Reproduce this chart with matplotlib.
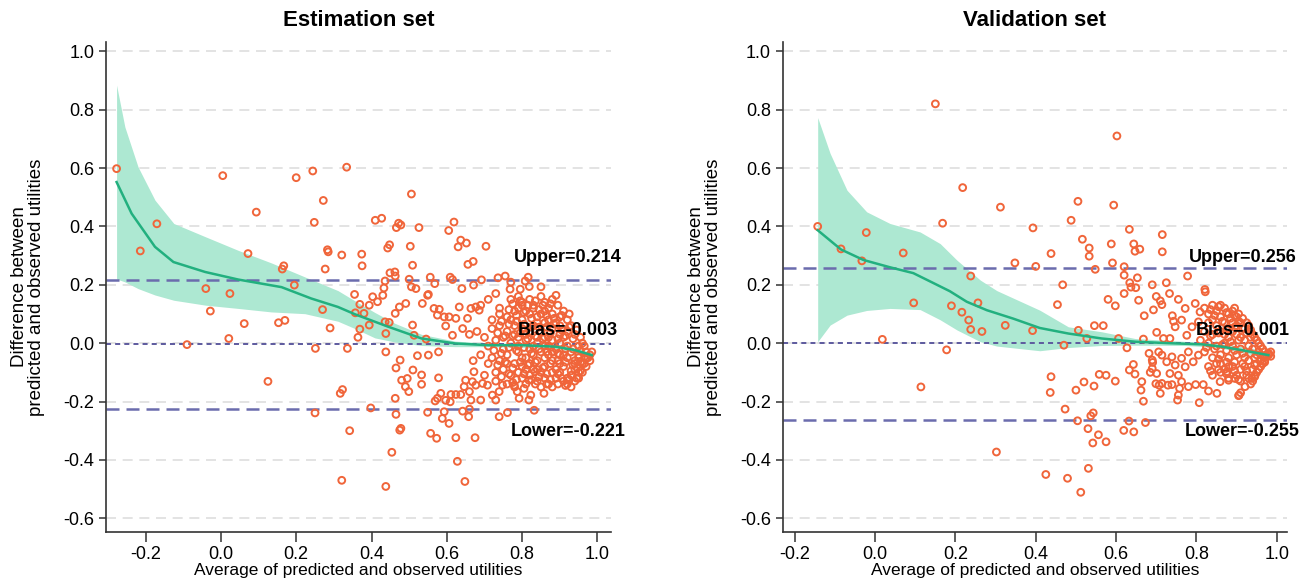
import numpy as np
import matplotlib
matplotlib.use("Agg")
import matplotlib.pyplot as plt

plt.rcParams['font.family'] = ['Liberation Sans', 'DejaVu Sans']
plt.rcParams['axes.unicode_minus'] = False

# ---------------- Estimation set ----------------
est_pts = [
    (-0.277, 0.598), (-0.214, 0.316), (-0.17, 0.409), (-0.09, -0.005), (-0.04, 0.187),
    (-0.028, 0.11), (0.005, 0.574), (0.021, 0.016), (0.024, 0.17), (0.062, 0.067),
    (0.072, 0.307), (0.094, 0.449), (0.125, -0.131), (0.153, 0.07), (0.17, 0.078),
    (0.163, 0.254), (0.167, 0.265), (0.195, 0.199), (0.20, 0.567), (0.244, 0.59),
    (0.248, 0.414), (0.251, -0.018), (0.25, -0.239), (0.27, 0.115), (0.272, 0.489),
    (0.277, 0.254), (0.283, 0.32), (0.285, 0.313), (0.29, 0.052), (0.317, -0.172),
    (0.321, 0.302), (0.323, -0.159), (0.321, -0.47), (0.334, 0.603), (0.336, -0.018),
    (0.342, -0.30), (0.355, 0.167), (0.357, 0.104), (0.364, 0.02), (0.369, 0.133),
    (0.369, 0.048), (0.374, 0.305), (0.375, 0.265),
    (0.506, 0.511), (0.41, 0.421), (0.427, 0.428), (0.472, 0.411), (0.478, 0.405),
    (0.466, 0.396), (0.526, 0.396), (0.619, 0.415), (0.605, 0.386), (0.637, 0.353),
    (0.652, 0.343), (0.63, 0.33), (0.704, 0.332), (0.448, 0.337), (0.443, 0.326),
    (0.503, 0.332), (0.509, 0.267), (0.656, 0.27), (0.67, 0.28), (0.449, 0.241),
    (0.462, 0.244), (0.463, 0.23), (0.436, 0.213), (0.5, 0.219), (0.556, 0.226),
    (0.609, 0.226), (0.615, 0.218), (0.568, 0.204), (0.692, 0.217), (0.736, 0.224),
    (0.755, 0.23), (0.77, 0.209), (0.816, 0.226), (0.808, 0.213), (0.819, 0.194),
    (0.85, 0.193), (0.506, 0.193), (0.518, 0.187), (0.433, 0.189), (0.64, 0.187),
    (0.671, 0.199), (0.795, 0.185), (0.551, 0.167), (0.768, 0.185), (0.89, 0.164),
    (0.403, 0.159), (0.416, 0.142), (0.43, 0.164), (0.394, 0.13), (0.38, 0.102),
    (0.394, 0.062), (0.436, 0.073), (0.447, 0.071), (0.438, 0.033), (0.474, 0.124),
    (0.491, 0.136), (0.463, 0.102), (0.509, 0.062), (0.513, 0.027), (0.545, 0.014),
    (0.535, 0.136), (0.549, 0.164), (0.566, 0.119), (0.58, 0.116), (0.575, 0.096),
    (0.593, 0.09), (0.606, 0.09), (0.597, 0.059), (0.615, 0.027), (0.642, 0.05),
    (0.624, 0.085), (0.633, 0.124), (0.664, 0.119), (0.677, 0.124), (0.686, 0.113),
    (0.655, 0.085), (0.438, -0.03), (0.522, -0.043), (0.551, -0.041), (0.578, -0.03),
    (0.476, -0.058), (0.465, -0.085), (0.51, -0.092), (0.48, -0.127), (0.495, -0.121),
    (0.49, -0.149), (0.499, -0.166), (0.533, -0.109), (0.533, -0.141), (0.578, -0.119),
    (0.463, -0.189), (0.569, -0.198), (0.575, -0.189), (0.584, -0.172), (0.611, -0.176),
    (0.624, -0.176), (0.637, -0.176), (0.597, -0.196), (0.609, -0.201), (0.593, -0.235),
    (0.588, -0.258), (0.606, -0.275), (0.549, -0.237), (0.465, -0.244), (0.398, -0.222),
    (0.478, -0.292), (0.475, -0.298), (0.557, -0.309), (0.573, -0.326), (0.624, -0.324),
    (0.675, -0.324), (0.454, -0.374), (0.628, -0.405), (0.438, -0.491), (0.648, -0.474),
    (0.642, -0.233), (0.66, -0.226), (0.658, -0.252), (0.664, -0.195), (0.66, -0.166),
    (0.646, -0.149), (0.65, -0.127), (0.668, -0.132), (0.672, -0.098), (0.677, -0.144),
    (0.69, -0.195), (0.695, -0.138), (0.708, -0.144), (0.721, -0.178), (0.73, -0.195),
    (0.739, -0.252), (0.761, -0.238), (0.739, -0.166), (0.748, -0.144), (0.779, -0.144),
    (0.787, -0.166), (0.792, -0.189), (0.818, -0.195), (0.823, -0.178), (0.832, -0.23),
    (0.858, -0.172), (0.805, -0.155), (0.818, -0.127), (0.834, -0.098),
    (0.68, 0.04), (0.70, 0.02), (0.66, 0.03), (0.69, -0.04), (0.71, -0.07), (0.67, -0.06),
    (0.70, -0.11), (0.72, 0.08), (0.73, -0.13), (0.74, 0.12), (0.71, 0.15), (0.73, 0.17),
    (0.69, 0.13),
    # dense cluster
    (0.77, 0.15), (0.79, 0.16), (0.80, 0.14), (0.82, 0.15), (0.83, 0.13), (0.85, 0.16),
    (0.86, 0.14), (0.88, 0.15), (0.79, 0.12), (0.81, 0.11),
    (0.74, 0.10), (0.76, 0.09), (0.78, 0.11), (0.80, 0.08), (0.82, 0.10), (0.84, 0.09),
    (0.86, 0.11), (0.88, 0.10), (0.90, 0.09), (0.83, 0.12), (0.87, 0.12), (0.91, 0.11),
    (0.89, 0.07),
    (0.72, 0.05), (0.74, 0.06), (0.76, 0.04), (0.78, 0.06), (0.80, 0.05), (0.81, 0.03),
    (0.83, 0.06), (0.85, 0.04), (0.86, 0.07), (0.88, 0.05), (0.90, 0.06), (0.92, 0.04),
    (0.93, 0.06), (0.84, 0.02), (0.87, 0.02), (0.91, 0.02), (0.94, 0.03), (0.79, 0.02),
    (0.77, 0.08),
    (0.71, -0.01), (0.73, 0.01), (0.75, -0.02), (0.77, 0.00), (0.79, -0.01), (0.81, 0.01),
    (0.82, -0.02), (0.84, 0.00), (0.85, -0.03), (0.87, -0.01), (0.88, 0.01), (0.89, -0.02),
    (0.90, 0.00), (0.92, -0.01), (0.93, -0.03), (0.95, -0.01), (0.96, 0.00), (0.83, -0.04),
    (0.86, -0.05), (0.91, -0.04),
    (0.72, -0.05), (0.74, -0.06), (0.76, -0.04), (0.78, -0.07), (0.80, -0.05), (0.82, -0.07),
    (0.84, -0.06), (0.86, -0.08), (0.88, -0.06), (0.90, -0.07), (0.92, -0.05), (0.94, -0.06),
    (0.95, -0.04), (0.97, -0.03), (0.98, -0.04), (0.79, -0.03), (0.81, -0.09), (0.87, -0.04),
    (0.73, -0.10), (0.75, -0.09), (0.77, -0.11), (0.79, -0.10), (0.80, -0.12), (0.82, -0.11),
    (0.83, -0.09), (0.85, -0.10), (0.86, -0.12), (0.88, -0.10), (0.89, -0.12), (0.90, -0.10),
    (0.91, -0.13), (0.93, -0.11), (0.94, -0.09), (0.95, -0.10), (0.96, -0.07), (0.97, -0.05),
    (0.84, -0.13), (0.87, -0.14),
    (0.76, -0.14), (0.78, -0.15), (0.81, -0.14), (0.85, -0.15), (0.88, -0.15), (0.92, -0.14),
    (0.94, -0.13), (0.95, -0.12), (0.96, -0.10), (0.97, -0.08), (0.98, -0.06),
    (0.93, -0.15), (0.945, -0.12), (0.955, -0.095), (0.965, -0.07), (0.975, -0.05),
    (0.985, -0.03), (0.92, -0.12), (0.93, -0.095), (0.94, -0.07), (0.95, -0.05),
    (0.80, 0.13), (0.82, 0.04), (0.84, 0.07), (0.86, 0.02), (0.88, -0.03), (0.90, 0.03),
    (0.91, -0.08), (0.89, -0.09), (0.85, 0.10), (0.83, -0.01), (0.81, -0.05), (0.87, 0.08),
    (0.92, 0.08), (0.90, -0.04), (0.84, -0.09), (0.86, -0.01), (0.78, 0.03), (0.76, -0.07),
    (0.75, 0.02), (0.80, -0.08),
    (0.775, 0.135), (0.795, 0.145), (0.815, 0.13), (0.835, 0.145), (0.855, 0.13), (0.875, 0.135),
    (0.895, 0.13), (0.765, 0.115), (0.785, 0.095), (0.805, 0.105), (0.825, 0.085), (0.845, 0.115),
    (0.865, 0.095), (0.885, 0.085), (0.905, 0.095), (0.925, 0.10),
    (0.745, 0.075), (0.765, 0.065), (0.785, 0.075), (0.805, 0.065), (0.825, 0.055), (0.845, 0.055),
    (0.865, 0.055), (0.885, 0.065), (0.905, 0.045), (0.925, 0.055), (0.945, 0.045),
    (0.735, 0.035), (0.755, 0.025), (0.775, 0.025), (0.795, 0.035), (0.815, 0.015), (0.835, 0.025),
    (0.855, 0.015), (0.875, 0.035), (0.895, 0.015), (0.915, 0.025), (0.935, 0.015), (0.955, 0.02),
    (0.725, -0.025), (0.745, -0.035), (0.765, -0.015), (0.785, -0.025), (0.805, -0.015),
    (0.825, -0.035), (0.845, -0.02), (0.865, -0.03), (0.875, -0.015), (0.895, -0.035),
    (0.915, -0.02), (0.935, -0.02), (0.955, -0.025), (0.965, -0.01),
    (0.735, -0.075), (0.755, -0.065), (0.775, -0.085), (0.795, -0.065), (0.815, -0.075),
    (0.835, -0.065), (0.855, -0.085), (0.875, -0.07), (0.895, -0.06), (0.915, -0.065),
    (0.935, -0.075), (0.955, -0.065),
    (0.745, -0.115), (0.765, -0.105), (0.785, -0.125), (0.805, -0.105), (0.825, -0.125),
    (0.845, -0.115), (0.865, -0.105), (0.875, -0.125), (0.895, -0.105), (0.905, -0.12),
    (0.925, -0.125), (0.775, -0.135), (0.835, -0.14), (0.865, -0.14), (0.895, -0.14),
    (0.915, -0.145),
]
est_fit_x = [-0.277, -0.237, -0.175, -0.126, -0.042, 0.046, 0.161, 0.24, 0.311, 0.356,
             0.445, 0.533, 0.622, 0.71, 0.799, 0.888, 0.941, 0.985]
est_fit_y = [0.552, 0.444, 0.33, 0.278, 0.244, 0.218, 0.192, 0.153, 0.124, 0.099,
             0.056, 0.016, -0.001, -0.007, -0.007, -0.012, -0.024, -0.041]
est_band_x = [-0.277, -0.255, -0.22, -0.175, -0.125, -0.04, 0.046, 0.134, 0.223, 0.311,
              0.356, 0.409, 0.462, 0.533, 0.622, 0.71, 0.8, 0.9, 0.985]
est_band_hi = [0.884, 0.741, 0.604, 0.49, 0.41, 0.364, 0.318, 0.275, 0.227, 0.18,
               0.145, 0.105, 0.068, 0.03, 0.007, 0.0, -0.001, -0.005, -0.032]
est_band_lo = [0.22, 0.21, 0.187, 0.165, 0.147, 0.13, 0.119, 0.107, 0.101, 0.075,
               0.05, 0.018, 0.004, -0.008, -0.012, -0.012, -0.014, -0.02, -0.05]
est_limits = {'upper': 0.218, 'bias': -0.003, 'lower': -0.226}
est_labels = ['Upper=0.214', 'Bias=-0.003', 'Lower=-0.221']

# ---------------- Validation set ----------------
val_pts = [
    (0.15, 0.82), (0.218, 0.533), (0.312, 0.466), (0.168, 0.411), (0.393, 0.395),
    (-0.143, 0.40), (-0.022, 0.379), (-0.085, 0.323), (-0.033, 0.282), (0.07, 0.309),
    (0.348, 0.275), (0.40, 0.263), (0.238, 0.23),
    (0.602, 0.71), (0.505, 0.486), (0.594, 0.473), (0.488, 0.421), (0.633, 0.39),
    (0.516, 0.356), (0.588, 0.34), (0.715, 0.372), (0.533, 0.326), (0.533, 0.298),
    (0.644, 0.34), (0.647, 0.315), (0.659, 0.322), (0.715, 0.313), (0.438, 0.307),
    (0.591, 0.275), (0.548, 0.253), (0.62, 0.262), (0.62, 0.233), (0.653, 0.224),
    (0.778, 0.23), (0.467, 0.2), (0.634, 0.207), (0.637, 0.192), (0.725, 0.207),
    (0.821, 0.184),
    (0.096, 0.138), (0.19, 0.128), (0.256, 0.138), (0.216, 0.106), (0.233, 0.079),
    (0.238, 0.047), (0.266, 0.04), (0.324, 0.061), (0.392, 0.043), (0.018, 0.013),
    (0.178, -0.023), (0.114, -0.15), (0.302, -0.373),
    (0.454, 0.132), (0.598, 0.128), (0.546, 0.06), (0.568, 0.06), (0.506, 0.044),
    (0.527, 0.016), (0.47, -0.007), (0.606, 0.016), (0.627, -0.016),
    (0.656, 0.147), (0.67, 0.094), (0.693, 0.114), (0.71, 0.145), (0.714, 0.132),
    (0.733, 0.17), (0.74, 0.094), (0.743, 0.075), (0.763, 0.079), (0.772, 0.119),
    (0.668, 0.014), (0.701, 0.037), (0.718, 0.016), (0.734, 0.016), (0.747, 0.056),
    (0.776, 0.027), (0.789, 0.056), (0.797, 0.136), (0.822, 0.176), (0.805, 0.073),
    (0.809, 0.107),
    (0.649, 0.19), (0.70, 0.16), (0.755, 0.15), (0.62, 0.17), (0.58, 0.15), (0.69, 0.2),
    (0.438, -0.115), (0.436, -0.169), (0.473, -0.226), (0.5, -0.161), (0.52, -0.133),
    (0.545, -0.147), (0.558, -0.107), (0.575, -0.11), (0.598, -0.13), (0.504, -0.266),
    (0.53, -0.293), (0.537, -0.249), (0.543, -0.239), (0.556, -0.314), (0.542, -0.342),
    (0.575, -0.338), (0.619, -0.299), (0.644, -0.304), (0.632, -0.267), (0.673, -0.272),
    (0.425, -0.45), (0.479, -0.463), (0.531, -0.429), (0.512, -0.511),
    (0.662, -0.161), (0.668, -0.199), (0.664, -0.132), (0.633, -0.092), (0.647, -0.106),
    (0.643, -0.073), (0.685, -0.1), (0.691, -0.066), (0.707, -0.144), (0.71, -0.172),
    (0.699, -0.139), (0.714, -0.138), (0.729, -0.144), (0.739, -0.142), (0.755, -0.178),
    (0.753, -0.195), (0.758, -0.155), (0.763, -0.132), (0.78, -0.149), (0.798, -0.142),
    (0.807, -0.204), (0.817, -0.142), (0.83, -0.164), (0.851, -0.172), (0.859, -0.132),
    (0.876, -0.098), (0.88, -0.127), (0.896, -0.121), (0.906, -0.178), (0.921, -0.149),
    (0.938, -0.121), (0.946, -0.11),
    (0.682, -0.035), (0.69, -0.058), (0.706, -0.03), (0.714, -0.041), (0.726, -0.064),
    (0.739, -0.047), (0.747, -0.075), (0.763, -0.052), (0.772, -0.081), (0.78, -0.03),
    (0.792, -0.064), (0.805, -0.041), (0.69, -0.087), (0.734, -0.104), (0.755, -0.11),
    (0.701, -0.104),
    # dense cluster
    (0.82, 0.12), (0.83, 0.10), (0.84, 0.13), (0.85, 0.11), (0.86, 0.09), (0.87, 0.12),
    (0.88, 0.10), (0.89, 0.11), (0.90, 0.09), (0.86, 0.13), (0.83, 0.07), (0.85, 0.06),
    (0.87, 0.07), (0.88, 0.05), (0.89, 0.07), (0.90, 0.06), (0.91, 0.07), (0.92, 0.05),
    (0.93, 0.06), (0.82, 0.04), (0.84, 0.03), (0.86, 0.04), (0.88, 0.02), (0.90, 0.03),
    (0.91, 0.02), (0.92, 0.01), (0.94, 0.03), (0.95, 0.01), (0.81, 0.01), (0.83, 0.00),
    (0.85, -0.01), (0.87, 0.00), (0.89, -0.01), (0.91, -0.02), (0.93, -0.01), (0.94, -0.02),
    (0.96, -0.01), (0.97, -0.03), (0.82, -0.03), (0.84, -0.05), (0.86, -0.04), (0.88, -0.05),
    (0.90, -0.04), (0.92, -0.05), (0.93, -0.06), (0.95, -0.04), (0.96, -0.06), (0.98, -0.04),
    (0.83, -0.08), (0.85, -0.07), (0.87, -0.09), (0.89, -0.08), (0.91, -0.09), (0.92, -0.08),
    (0.94, -0.09), (0.95, -0.07), (0.97, -0.06), (0.84, -0.11), (0.86, -0.10), (0.88, -0.12),
    (0.90, -0.11), (0.91, -0.13), (0.93, -0.12), (0.94, -0.13), (0.95, -0.10), (0.96, -0.08),
    (0.97, -0.05), (0.98, -0.035), (0.905, -0.18), (0.91, -0.17), (0.895, 0.12), (0.905, 0.10),
    (0.915, 0.085), (0.925, 0.07), (0.935, 0.045), (0.945, 0.02), (0.955, 0.0), (0.965, -0.02),
    (0.975, -0.045), (0.985, -0.03), (0.87, 0.03), (0.89, 0.04), (0.86, -0.07), (0.88, -0.08),
    (0.84, 0.08),
    (0.835, 0.115), (0.855, 0.125), (0.875, 0.105), (0.895, 0.095), (0.845, 0.095),
    (0.865, 0.075), (0.885, 0.085), (0.905, 0.075), (0.915, 0.05), (0.895, 0.055),
    (0.875, 0.045), (0.855, 0.035), (0.835, 0.025), (0.925, 0.035), (0.935, 0.02),
    (0.905, 0.01), (0.885, 0.005), (0.865, -0.005), (0.845, -0.02), (0.825, -0.015),
    (0.875, -0.025), (0.895, -0.025), (0.915, -0.035), (0.935, -0.035), (0.945, -0.05),
    (0.955, -0.03), (0.965, -0.045), (0.855, -0.055), (0.875, -0.065), (0.895, -0.065),
    (0.915, -0.07), (0.925, -0.095), (0.945, -0.075), (0.955, -0.09), (0.965, -0.07),
    (0.835, -0.095), (0.855, -0.09), (0.875, -0.105), (0.895, -0.095), (0.905, -0.125),
    (0.925, -0.11), (0.945, -0.115), (0.935, -0.14), (0.97, -0.065), (0.985, -0.045),
]
val_fit_x = [-0.143, -0.085, -0.029, 0.037, 0.095, 0.145, 0.186, 0.228, 0.278, 0.344,
             0.41, 0.481, 0.564, 0.647, 0.73, 0.813, 0.863, 0.913, 0.979]
val_fit_y = [0.387, 0.321, 0.285, 0.26, 0.24, 0.206, 0.178, 0.142, 0.113, 0.084,
             0.052, 0.033, 0.016, 0.005, 0.0, -0.004, -0.012, -0.024, -0.041]
val_band_x = [-0.143, -0.112, -0.07, -0.021, 0.037, 0.112, 0.162, 0.204, 0.262, 0.303,
              0.41, 0.481, 0.564, 0.647, 0.772, 0.85, 0.92, 0.979]
val_band_hi = [0.773, 0.65, 0.524, 0.45, 0.41, 0.381, 0.341, 0.284, 0.216, 0.18,
               0.113, 0.056, 0.039, 0.016, 0.006, 0.0, -0.012, -0.03]
val_band_lo = [0.005, 0.062, 0.096, 0.112, 0.119, 0.115, 0.08, 0.045, 0.005, -0.01,
               -0.026, -0.015, -0.008, -0.007, -0.008, -0.014, -0.034, -0.052]
val_limits = {'upper': 0.257, 'bias': 0.001, 'lower': -0.262}
val_labels = ['Upper=0.256', 'Bias=0.001', 'Lower=-0.255']

x_ticks = [-0.2, 0.0, 0.2, 0.4, 0.6, 0.8, 1.0]
y_ticks = [-0.6, -0.4, -0.2, 0.0, 0.2, 0.4, 0.6, 0.8, 1.0]

PT_COL = '#f0653a'
FIT_COL = '#22b07f'
BAND_COL = '#ade8d2'
LIM_COL = '#6b6cad'
BIAS_COL = '#5d5a9e'


def panel(ax, title, pts, fx, fy, bx, blo, bhi, lim, labels, xlim, label_x):
    for yt in y_ticks:
        ax.axhline(yt, color='#dedede', lw=1.2, ls=(0, (6, 4)), zorder=0)
    ax.fill_between(bx, blo, bhi, color=BAND_COL, lw=0, zorder=1)
    ax.axhline(lim['upper'], color=LIM_COL, lw=1.8, ls=(0, (5.2, 2.8)), zorder=2)
    ax.axhline(lim['lower'], color=LIM_COL, lw=1.8, ls=(0, (5.2, 2.8)), zorder=2)
    ax.axhline(lim['bias'], color=BIAS_COL, lw=1.4, ls=(0, (2.6, 2.1)), zorder=2)
    px = [p[0] for p in pts]
    py = [p[1] for p in pts]
    ax.scatter(px, py, s=24, facecolors='none', edgecolors=PT_COL, linewidths=1.4, zorder=3)
    ax.plot(fx, fy, color=FIT_COL, lw=1.8, zorder=4)

    for yv, lab in zip((0.293, 0.045, -0.304), labels):
        ax.text(label_x, yv, lab, ha='center', va='center', fontsize=13,
                fontweight='bold', zorder=5, clip_on=False)

    ax.set_xlim(*xlim)
    ax.set_ylim(-0.646, 1.031)
    ax.set_xticks(x_ticks)
    ax.set_xticklabels([f"{v:.1f}" for v in x_ticks])
    ax.set_yticks(y_ticks)
    ax.set_yticklabels([f"{v:.1f}" for v in y_ticks])
    ax.tick_params(axis='both', labelsize=13, color='#333333', width=1.1)
    ax.tick_params(axis='x', length=7)
    ax.tick_params(axis='y', length=5)
    for s in ('top', 'right'):
        ax.spines[s].set_visible(False)
    for s in ('left', 'bottom'):
        ax.spines[s].set_color('#333333')
        ax.spines[s].set_linewidth(1.2)
    ax.set_title(title, fontsize=16, fontweight='bold', pad=12)
    ax.set_xlabel('Average of predicted and observed utilities', fontsize=12.5)
    ax.set_ylabel('Difference between\npredicted and observed utilities', fontsize=13.5,
                  linespacing=1.0)
    ax.yaxis.set_label_coords(-0.121, 0.5)
    ax.xaxis.set_label_coords(0.5, -0.065)


fig = plt.figure(figsize=(13.14, 5.84), dpi=100)
ax1 = fig.add_axes([0.0807, 0.0896, 0.384, 0.838])
ax2 = fig.add_axes([0.5957, 0.0896, 0.3836, 0.838])

panel(ax1, 'Estimation set', est_pts, est_fit_x, est_fit_y, est_band_x, est_band_lo,
      est_band_hi, est_limits, est_labels, (-0.305, 1.035), 0.922)
panel(ax2, 'Validation set', val_pts, val_fit_x, val_fit_y, val_band_x, val_band_lo,
      val_band_hi, val_limits, val_labels, (-0.23, 1.025), 0.915)

fig.savefig('out.png', dpi=100)
